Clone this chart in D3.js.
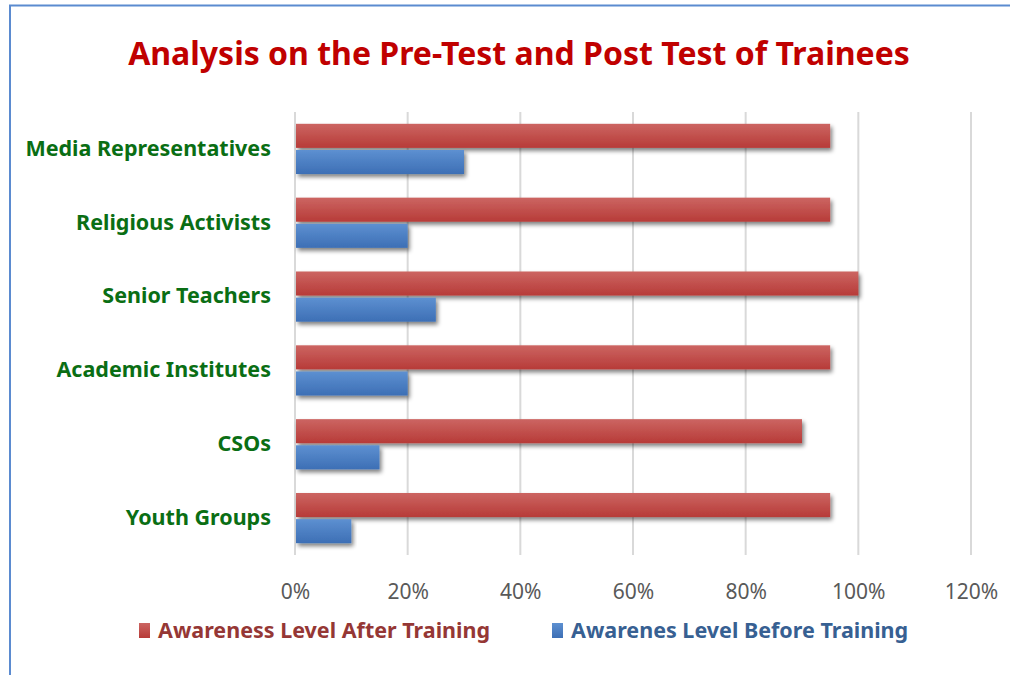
<!DOCTYPE html>
<html><head><meta charset="utf-8">
<script src="https://cdn.jsdelivr.net/npm/d3@7/dist/d3.min.js"></script>
<style>
html,body{margin:0;padding:0;background:#fff;}
svg{display:block;font-family:"Noto Sans","Open Sans",sans-serif;}
</style></head><body>
<svg id="c" width="1010" height="675"></svg>
<script>
const categories = ["Media Representatives","Religious Activists","Senior Teachers","Academic Institutes","CSOs","Youth Groups"];
const afterTraining = [0.95,0.95,1.00,0.95,0.90,0.95];
const beforeTraining = [0.30,0.20,0.25,0.20,0.15,0.10];
const tickValues = [0,0.2,0.4,0.6,0.8,1.0,1.2];
const seriesNames = ["Awareness Level After Training","Awarenes Level Before Training"];
const title = "Analysis on the Pre-Test and Post Test of Trainees";

const svg = d3.select("#c");
const defs = svg.append("defs");
function grad(id, c1, c2){
  const g = defs.append("linearGradient").attr("id",id).attr("x1",0).attr("y1",0).attr("x2",0).attr("y2",1);
  g.append("stop").attr("offset","0%").attr("stop-color",c1);
  g.append("stop").attr("offset","100%").attr("stop-color",c2);
}
grad("gRed","#cc6562","#b73b38");
grad("gBlue","#5d90d1","#3d6fb5");
const f = defs.append("filter").attr("id","sh").attr("x","-5%").attr("y","-30%").attr("width","115%").attr("height","180%");
f.append("feGaussianBlur").attr("in","SourceAlpha").attr("stdDeviation",2.2);
f.append("feOffset").attr("dx",2).attr("dy",3).attr("result","b");
f.append("feComponentTransfer").append("feFuncA").attr("type","linear").attr("slope",0.5);
const m = f.append("feMerge"); m.append("feMergeNode"); m.append("feMergeNode").attr("in","SourceGraphic");

// border
svg.append("path").attr("d","M10,1010 L10,5.5 L1010,5.5").attr("fill","none").attr("stroke","#5b8bd0").attr("stroke-width",2);

const x = d3.scaleLinear().domain([0,1.2]).range([295,971]);
const y = d3.scaleBand().domain(categories).range([112,555]).paddingInner(0.32).paddingOuter(0.16);
const y2 = d3.scaleBand().domain([0,1]).range([0,y.bandwidth()]).paddingInner(0.08);

// title
svg.append("text").attr("x",519).attr("y",65).attr("text-anchor","middle")
  .attr("font-size",32).attr("font-weight","bold").attr("fill","#c00000").text(title);

// gridlines
svg.append("g").selectAll("line").data(tickValues).join("line")
  .attr("x1",d=>x(d)).attr("x2",d=>x(d)).attr("y1",112).attr("y2",555)
  .attr("stroke","#d9d9d9").attr("stroke-width",2);

// x axis labels
const xa = svg.append("g").attr("transform","translate(0,581)")
  .call(d3.axisBottom(x).tickValues(tickValues).tickFormat(d3.format(".0%")).tickSize(0));
xa.select(".domain").remove();
xa.selectAll("text").attr("font-size",21).attr("fill","#595959").attr("font-family","'Noto Sans',sans-serif");

// y labels
const ya = svg.append("g").attr("transform","translate(271,0)")
  .call(d3.axisLeft(y).tickSize(0).tickPadding(0));
ya.select(".domain").remove();
ya.selectAll("text").attr("font-size",21.5).attr("font-weight","bold").attr("fill","#0a6e14")
  .attr("font-family","'Noto Sans',sans-serif");

// bars
const g = svg.append("g");
g.selectAll("rect.a").data(categories).join("rect").attr("class","a")
  .attr("x",x(0)+1).attr("y",(d)=>y(d)+y2(0)).attr("height",y2.bandwidth())
  .attr("width",(d,i)=>x(afterTraining[i])-x(0)-1).attr("fill","url(#gRed)").attr("filter","url(#sh)");
g.selectAll("rect.b").data(categories).join("rect").attr("class","b")
  .attr("x",x(0)+1).attr("y",(d)=>y(d)+y2(1)).attr("height",y2.bandwidth())
  .attr("width",(d,i)=>x(beforeTraining[i])-x(0)-1).attr("fill","url(#gBlue)").attr("filter","url(#sh)");

// legend
const leg = [{n:seriesNames[0],fill:"url(#gRed)",c:"#953735",x:139},{n:seriesNames[1],fill:"url(#gBlue)",c:"#376092",x:552}];
const lg = svg.append("g").selectAll("g").data(leg).join("g").attr("transform",d=>`translate(${d.x},623)`);
lg.append("rect").attr("width",11).attr("height",15).attr("fill",d=>d.fill);
lg.append("text").attr("x",19).attr("y",15).attr("font-size",21.5).attr("font-weight","bold")
  .attr("fill",d=>d.c).text(d=>d.n);
</script>
</body></html>
